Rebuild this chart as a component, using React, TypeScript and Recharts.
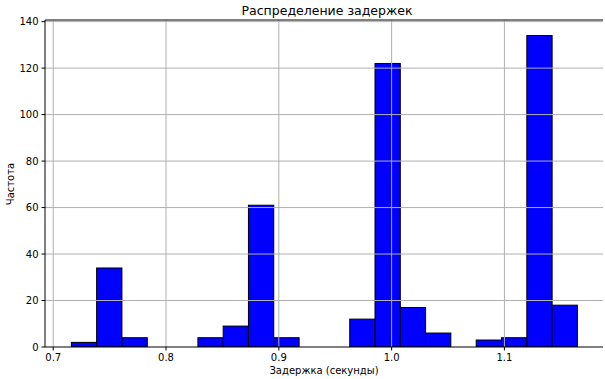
import React from 'react';
import { ComposedChart, Bar, XAxis, YAxis, ReferenceLine } from 'recharts';

// Histogram bins (centers, seconds) and counts
const binCenters = [
  0.7274, 0.7498, 0.7723, 0.7947, 0.8171, 0.8396, 0.862, 0.8844, 0.9069, 0.9293,
  0.9517, 0.9742, 0.9966, 1.019, 1.0414, 1.0639, 1.0863, 1.1087, 1.1312, 1.1536,
];
const counts = [2, 34, 4, 0, 0, 4, 9, 61, 4, 0, 0, 12, 122, 17, 6, 0, 3, 4, 134, 18];
const binWidth = 0.02243;

const xTicks = [0.7, 0.8, 0.9, 1.0, 1.1];
const yTicks = [0, 20, 40, 60, 80, 100, 120, 140];
const xDomain: [number, number] = [0.6927, 1.1874];
const yDomain: [number, number] = [0, 140.7];

const title = 'Распределение задержек';
const xLabel = 'Задержка (секунды)';
const yLabel = 'Частота';

const data = binCenters.map((c, i) => ({ center: c, count: counts[i] }));

const W = 605;
const H = 379;
const M = { top: 20, right: 2, left: 0, bottom: 0 };
const Y_AXIS_W = 45;
const X_AXIS_H = 32;
const plotW = W - M.left - M.right - Y_AXIS_W;
const barPx = (binWidth / (xDomain[1] - xDomain[0])) * plotW;
const plotCenterX = M.left + Y_AXIS_W + plotW / 2;
const plotCenterY = M.top + (H - M.top - M.bottom - X_AXIS_H) / 2;

const font = '"DejaVu Sans", sans-serif';
const tickStyle = { fill: '#000', fontSize: 10, fontFamily: font };

const BinRect = (props: any) => {
  const { x, y, width, height, payload } = props;
  if (!height || height <= 0) return null;
  const cx = x + width / 2;
  return (
    <rect
      x={cx - barPx / 2}
      y={y}
      width={barPx}
      height={height}
      fill="#0000ff"
      stroke="#000"
      strokeWidth={1}
    />
  );
};

export default function App() {
  return (
    <div style={{ position: 'absolute', left: 0, top: 0, width: W, height: H, background: '#fff' }}>
      <ComposedChart width={W} height={H} data={data} margin={M} barCategoryGap={0} barGap={0}>
        <XAxis
          dataKey="center"
          type="number"
          domain={xDomain}
          allowDataOverflow
          ticks={xTicks}
          tickFormatter={(v: number) => v.toFixed(1)}
          tick={tickStyle}
          tickSize={3.5}
          tickMargin={3}
          height={X_AXIS_H}
          axisLine={{ stroke: '#000', strokeWidth: 1 }}
          tickLine={{ stroke: '#000', strokeWidth: 1 }}
          interval={0}
        />
        <YAxis
          type="number"
          domain={yDomain}
          allowDataOverflow
          ticks={yTicks}
          tick={tickStyle}
          tickSize={3.5}
          tickMargin={3}
          width={Y_AXIS_W}
          axisLine={{ stroke: '#000', strokeWidth: 1 }}
          tickLine={{ stroke: '#000', strokeWidth: 1 }}
          interval={0}
        />
        <Bar
          dataKey="count"
          fill="#0000ff"
          stroke="#000"
          strokeWidth={1}
          shape={BinRect}
          isAnimationActive={false}
        />
        {xTicks.map((t) => (
          <ReferenceLine key={'gx' + t} x={t} stroke="#b0b0b0" strokeWidth={1} />
        ))}
        {yTicks.filter((t) => t > 0).map((t) => (
          <ReferenceLine key={'gy' + t} y={t} stroke="#b0b0b0" strokeWidth={1} />
        ))}
        <ReferenceLine y={yDomain[1]} stroke="#000" strokeWidth={1} />
      </ComposedChart>
      <div
        style={{
          position: 'absolute',
          left: plotCenterX + 3,
          top: 3,
          transform: 'translateX(-50%)',
          fontFamily: font,
          fontSize: 12.5,
          whiteSpace: 'nowrap',
          color: '#000',
        }}
      >
        {title}
      </div>
      <div
        style={{
          position: 'absolute',
          left: plotCenterX,
          top: 365,
          transform: 'translateX(-50%)',
          fontFamily: font,
          fontSize: 10,
          whiteSpace: 'nowrap',
          color: '#000',
        }}
      >
        {xLabel}
      </div>
      <div
        style={{
          position: 'absolute',
          left: 10,
          top: plotCenterY,
          transform: 'translate(-50%, -50%) rotate(-90deg)',
          fontFamily: font,
          fontSize: 10,
          whiteSpace: 'nowrap',
          color: '#000',
        }}
      >
        {yLabel}
      </div>
    </div>
  );
}
